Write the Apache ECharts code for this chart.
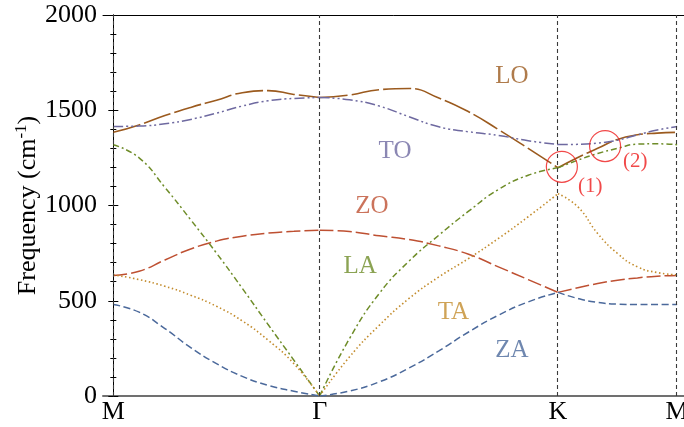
<!DOCTYPE html>
<html>
<head>
<meta charset="utf-8">
<script src="https://cdn.jsdelivr.net/npm/echarts@6/dist/echarts.min.js"></script>
<style>
  html, body { margin: 0; padding: 0; background: #ffffff; }
  #chart { width: 684px; height: 427px; }
</style>
</head>
<body>
<div id="chart"></div>
<script>
// High-symmetry points along the path M-Γ-K-M (path length in units of |ΓM|)
const symNames = ['M', 'Γ', 'K', 'M'];
const symPos = [0, 1, 2.1547, 2.7321];

// Sample positions along each segment of the path
const qMG = [0, 0.125, 0.25, 0.375, 0.5, 0.625, 0.75, 0.875, 1];
const qGK = [1, 1.1443, 1.2887, 1.4330, 1.5774, 1.7217, 1.8660, 2.0104, 2.1547];
const qKM = [2.1547, 2.2509, 2.3472, 2.4434, 2.5396, 2.6359, 2.7321];

// Phonon frequencies (cm^-1) of each branch on each segment
const LO_MG = [1384, 1423, 1472, 1515, 1553, 1592, 1603, 1583, 1567];
const LO_GK = [1567, 1580, 1608, 1614, 1564, 1492, 1399, 1300, 1198];
const LO_KM = [1198, 1252, 1300, 1347, 1371, 1380, 1384];

const TO_MG = [1415, 1417, 1429, 1452, 1485, 1522, 1550, 1562, 1567];
const TO_GK = [1567, 1555, 1522, 1466, 1413, 1387, 1368, 1340, 1320];
const TO_KM = [1320, 1321, 1328, 1343, 1371, 1396, 1415];

const ZO_MG = [633, 655, 714, 772, 813, 839, 855, 865, 870];
const ZO_GK = [870, 863, 841, 821, 788, 744, 678, 611, 544];
const ZO_KM = [544, 568, 590, 608, 620, 629, 633];

const LA_MG = [1319, 1250, 1095, 925, 750, 565, 375, 188, 0];
const LA_GK = [0, 301, 538, 708, 844, 970, 1084, 1159, 1198];
const LA_KM = [1198, 1238, 1273, 1300, 1322, 1324, 1319];

const TA_MG = [636, 611, 576, 529, 471, 394, 293, 170, 0];
const TA_GK = [0, 205, 371, 512, 625, 722, 827, 941, 1062];
const TA_KM = [1062, 993, 853, 748, 678, 648, 636];

const ZA_MG = [480, 440, 354, 254, 170, 103, 56, 25, 0];
const ZA_GK = [0, 26, 74, 147, 237, 336, 424, 494, 544];
const ZA_KM = [544, 512, 491, 482, 480, 480, 480];

// Branch names and where their names are written (q, frequency)
const bandNames = ['LO', 'TO', 'ZO', 'LA', 'TA', 'ZA'];
const bandLabelQ = [1.931, 1.365, 1.253, 1.196, 1.648, 1.931];
const bandLabelF = [1676, 1282, 993, 678, 441, 240];

// Marked crossing regions near K
const ringQ = [2.1736, 2.383];
const ringF = [1203, 1312];
const ringTags = ['(1)', '(2)'];
const ringTagQ = [2.311, 2.529];
const ringTagF = [1098, 1229];

const yTicks = [0, 500, 1000, 1500, 2000];

const SERIF = '"Liberation Serif", "DejaVu Serif", serif';

const bandStyle = {
  LO: { color: '#9b5a1e', dash: [28, 4], width: 1.6 },
  TO: { color: '#6e69a0', dash: [10, 3, 2, 3, 2, 3], width: 1.5 },
  ZO: { color: '#be5032', dash: [14, 4], width: 1.5 },
  LA: { color: '#6e8c28', dash: [6, 3, 2, 3], width: 1.5 },
  TA: { color: '#c38c2d', dash: [1.5, 2.5], width: 1.6 },
  ZA: { color: '#4b699b', dash: [7, 3.5], width: 1.5 }
};

const bandData = {
  LO: [LO_MG, LO_GK, LO_KM],
  TO: [TO_MG, TO_GK, TO_KM],
  ZO: [ZO_MG, ZO_GK, ZO_KM],
  LA: [LA_MG, LA_GK, LA_KM],
  TA: [TA_MG, TA_GK, TA_KM],
  ZA: [ZA_MG, ZA_GK, ZA_KM]
};

// Join the three path segments, leaving a break at Γ and K so kinks stay sharp
function pathPoints(segs) {
  const qs = [qMG, qGK, qKM];
  const out = [];
  segs.forEach((fs, i) => {
    if (i > 0) out.push([qs[i][0], '-']);
    qs[i].forEach((q, j) => out.push([q, fs[j]]));
  });
  return out;
}

const series = bandNames.map(name => ({
  name: name,
  type: 'line',
  data: pathPoints(bandData[name]),
  smooth: 0.5,
  connectNulls: false,
  showSymbol: false,
  symbol: 'none',
  silent: true,
  lineStyle: {
    color: bandStyle[name].color,
    width: bandStyle[name].width,
    type: bandStyle[name].dash
  },
  z: 3
}));

// Vertical dashed lines through the high-symmetry points
series.push({
  type: 'line',
  data: [],
  silent: true,
  markLine: {
    silent: true,
    symbol: ['none', 'none'],
    label: { show: false },
    lineStyle: { color: '#3a3a3a', width: 1.1, type: [4, 3] },
    data: symPos.map(q => ({ xAxis: q }))
  },
  z: 2
});

// Branch names
series.push({
  type: 'scatter',
  silent: true,
  symbolSize: 1,
  itemStyle: { color: 'transparent' },
  data: bandNames.map((n, i) => ({
    value: [bandLabelQ[i], bandLabelF[i]],
    label: { color: bandStyle[n].color }
  })),
  label: {
    show: true,
    position: 'inside',
    fontFamily: SERIF,
    fontSize: 25,
    formatter: p => bandNames[p.dataIndex]
  },
  z: 4
});

// Red rings around the crossings
series.push({
  type: 'scatter',
  silent: true,
  symbol: 'circle',
  symbolSize: 31,
  itemStyle: { color: 'transparent', borderColor: '#ee1c1c', borderWidth: 1.2 },
  data: ringQ.map((q, i) => [q, ringF[i]]),
  z: 5
});

// Ring tags
series.push({
  type: 'scatter',
  silent: true,
  symbolSize: 1,
  itemStyle: { color: 'transparent' },
  data: ringTags.map((t, i) => [ringTagQ[i], ringTagF[i]]),
  label: {
    show: true,
    position: 'inside',
    fontFamily: SERIF,
    fontSize: 21,
    color: '#ee1c1c',
    formatter: p => ringTags[p.dataIndex]
  },
  z: 5
});

const chart = echarts.init(document.getElementById('chart'), null, { renderer: 'canvas' });

chart.setOption({
  animation: false,
  backgroundColor: '#ffffff',
  grid: { left: 103, top: 15, width: 584, height: 381, containLabel: false, outerBoundsMode: 'none' },
  xAxis: [
    {
      type: 'value',
      position: 'bottom',
      min: -0.05,
      max: 2.78,
      axisLine: { show: true, onZero: false, lineStyle: { color: '#707070', width: 2 } },
      axisTick: { show: false },
      splitLine: { show: false },
      axisLabel: {
        show: true,
        customValues: symPos,
        formatter: v => {
          const i = symPos.findIndex(p => Math.abs(p - v) < 1e-6);
          return i >= 0 ? symNames[i] : '';
        },
        fontFamily: SERIF,
        fontSize: 26,
        color: '#000',
        margin: 3
      }
    },
    {
      type: 'value',
      position: 'top',
      min: -0.05,
      max: 2.78,
      axisLine: { show: true, onZero: false, lineStyle: { color: '#000', width: 1 } },
      axisTick: { show: false },
      axisLabel: { show: false },
      splitLine: { show: false }
    }
  ],
  yAxis: [
    {
      type: 'value',
      position: 'left',
      min: yTicks[0],
      max: yTicks[yTicks.length - 1],
      interval: 500,
      name: '{a|Frequency (cm}{b|-1}{a|)}',
      nameLocation: 'middle',
      nameGap: 60,
      nameMoveOverlap: false,
      nameTextStyle: {
        rich: {
          a: { fontFamily: SERIF, fontSize: 26, color: '#000' },
          b: { fontFamily: SERIF, fontSize: 17, color: '#000', verticalAlign: 'top', lineHeight: 30 }
        }
      },
      axisLine: { show: true, lineStyle: { color: '#000', width: 1 } },
      axisTick: { show: true, inside: true, length: 5, lineStyle: { color: '#000' } },
      minorTick: { show: true, splitNumber: 5, length: 3, lineStyle: { color: '#000' } },
      splitLine: { show: false },
      axisLabel: {
        fontFamily: SERIF,
        fontSize: 26,
        color: '#000',
        margin: 6,
        formatter: v => String(v)
      }
    },
    {
      type: 'value',
      position: 'right',
      min: yTicks[0],
      max: yTicks[yTicks.length - 1],
      interval: 500,
      axisLine: { show: true, lineStyle: { color: '#000', width: 1 } },
      axisTick: { show: true, inside: true, length: 5, lineStyle: { color: '#000' } },
      minorTick: { show: true, splitNumber: 5, length: 3, lineStyle: { color: '#000' } },
      axisLabel: { show: false },
      splitLine: { show: false }
    }
  ],
  series: series
});
</script>
</body>
</html>
